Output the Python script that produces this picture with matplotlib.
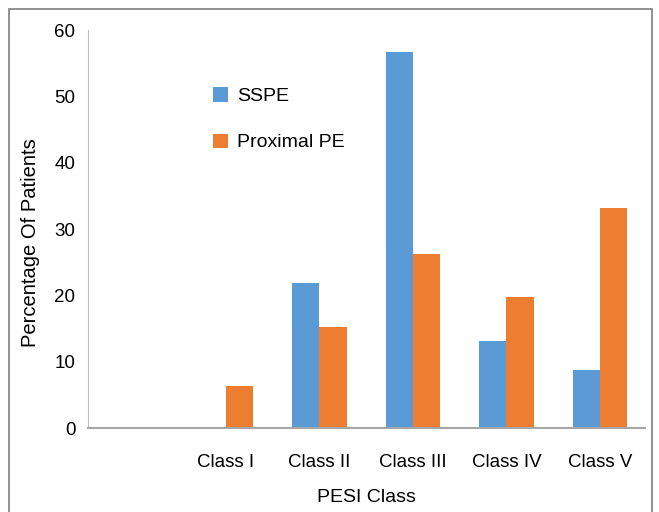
import numpy as np
import matplotlib.pyplot as plt
from matplotlib.patches import Rectangle

plt.rcParams['font.family'] = ['Liberation Sans', 'DejaVu Sans']

categories = ['', 'Class I', 'Class II', 'Class III', 'Class IV', 'Class V']
sspe = [0, 0, 21.9, 56.7, 13.2, 8.8]
proximal = [0, 6.4, 15.2, 26.2, 19.8, 33.2]

fig = plt.figure(figsize=(6.59, 5.12), dpi=100)
ax = fig.add_axes([0.1335, 0.164, 0.845, 0.777])

x = np.arange(len(categories))
w = 0.29
ax.bar(x - w / 2, sspe, w, color='#5B9BD5', label='SSPE')
ax.bar(x + w / 2, proximal, w, color='#ED7D31', label='Proximal PE')

ax.set_xlim(-0.476, 5.48)
ax.set_ylim(0, 60)
ax.set_yticks(range(0, 61, 10))
ax.set_xticks(x)
ax.set_xticklabels(categories)
ax.tick_params(axis='both', length=0, labelsize=13.5)
ax.tick_params(axis='x', pad=19)
ax.tick_params(axis='y', pad=9)

for s in ['top', 'right']:
    ax.spines[s].set_visible(False)
ax.spines['left'].set_color('#BFBFBF')
ax.spines['left'].set_linewidth(0.8)
ax.spines['bottom'].set_color('#A6A6A6')
ax.spines['bottom'].set_linewidth(1.5)

ax.set_xlabel('PESI Class', fontsize=14, labelpad=13)
ax.set_ylabel('Percentage Of Patients', fontsize=14.5)
ax.yaxis.set_label_coords(-0.087, 0.465)

ax.legend(loc='upper left', bbox_to_anchor=(0.193, 0.9), frameon=False,
          fontsize=14, handlelength=0.75, handleheight=0.75,
          handletextpad=0.5, labelspacing=1.45)

# outer border
fig.patches.append(Rectangle((0.0137, -0.02), 0.976, 1.002, transform=fig.transFigure,
                             fill=False, edgecolor='#7F7F7F', linewidth=1.2))

fig.savefig('out.png', dpi=100)
